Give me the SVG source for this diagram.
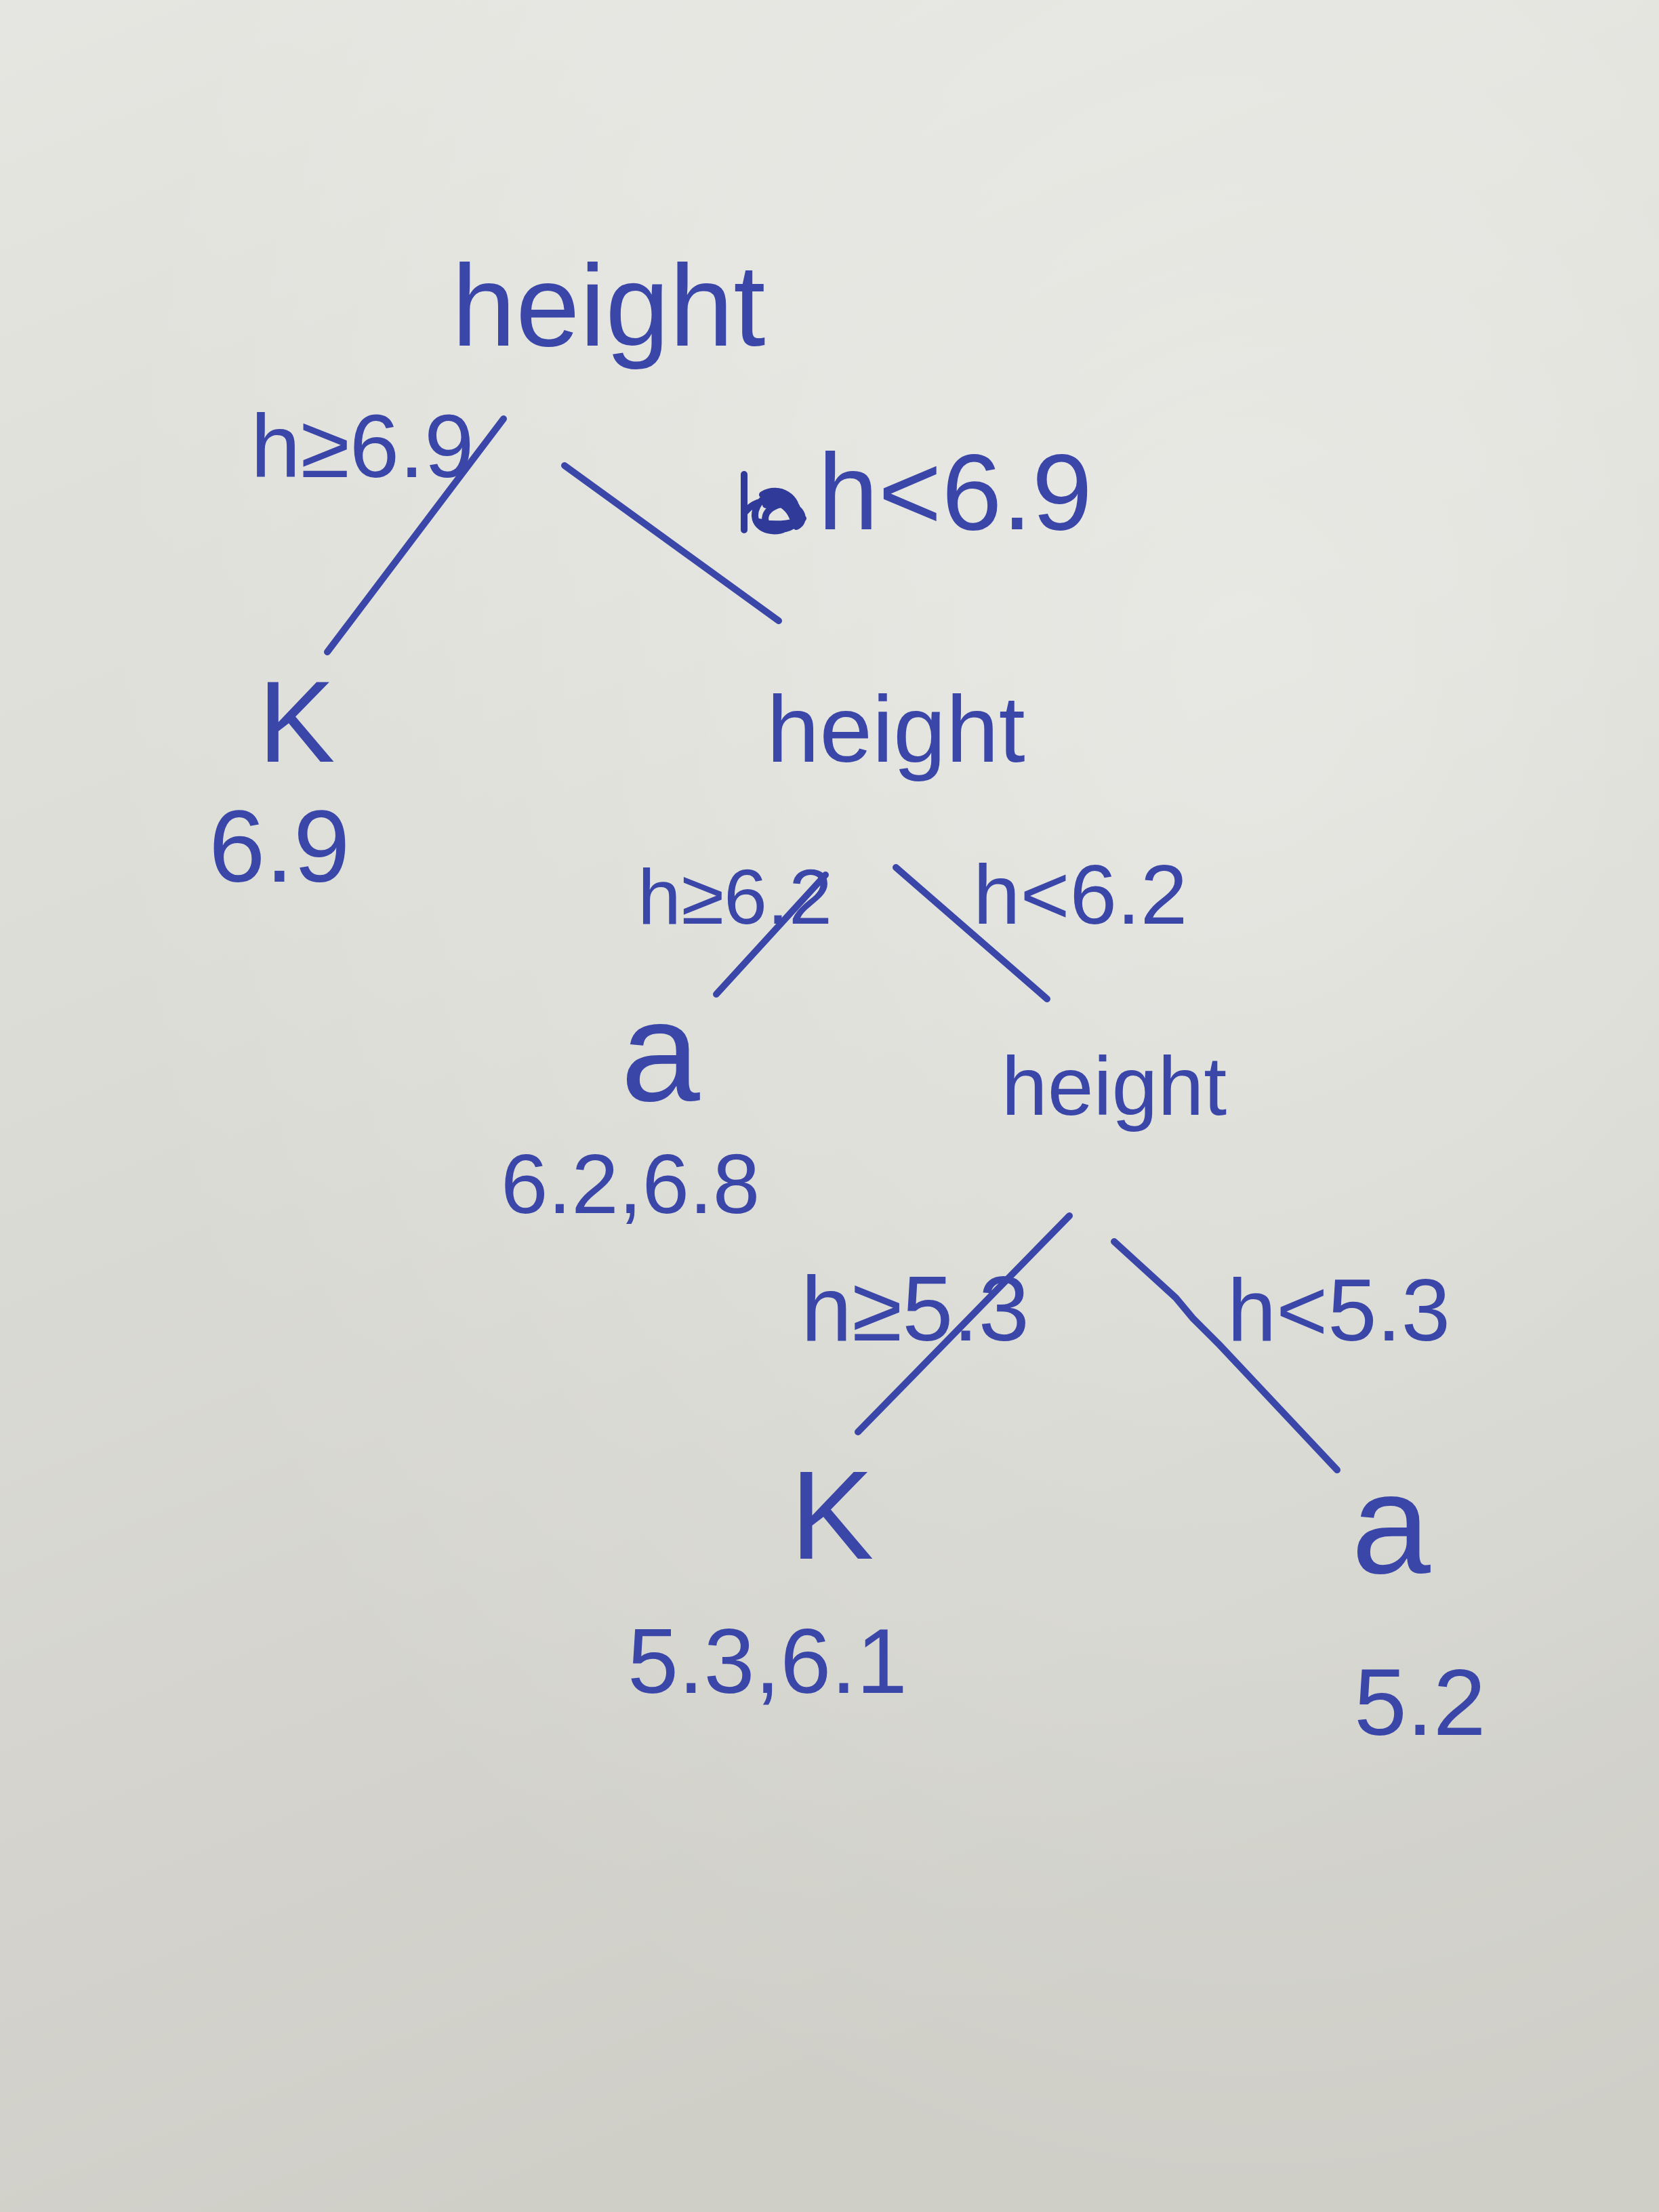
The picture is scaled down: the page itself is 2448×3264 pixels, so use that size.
<svg xmlns="http://www.w3.org/2000/svg" width="2448" height="3264" viewBox="0 0 2448 3264">
<defs>
<linearGradient id="paper" x1="0" y1="0" x2="0.3" y2="1">
<stop offset="0" stop-color="#e5e5e1"/>
<stop offset="0.45" stop-color="#dcdcd6"/>
<stop offset="1" stop-color="#cfcfc8"/>
</linearGradient>
<radialGradient id="light" cx="0.75" cy="0.3" r="0.7">
<stop offset="0" stop-color="#ffffff" stop-opacity="0.35"/>
<stop offset="1" stop-color="#ffffff" stop-opacity="0"/>
</radialGradient>
<style>
.ink{fill:#3a46a8;font-family:"Liberation Sans","DejaVu Sans",sans-serif;}
.node{font-size:170px;}
.lbl{font-size:140px;}
.val{font-size:150px;}
.edge{stroke:#3a46a8;stroke-width:10;stroke-linecap:round;fill:none;}
</style>
</defs>
<rect x="0" y="0" width="2448" height="3264" fill="url(#paper)"/>
<rect x="0" y="0" width="2448" height="3264" fill="url(#light)"/>

<g id="connectors">
<path class="edge" d="M743,618 L483,962"/>
<path class="edge" d="M833,687 L1149,916"/>
<path class="edge" d="M1218,1291 L1057,1467"/>
<path class="edge" d="M1322,1280 L1545,1474"/>
<path class="edge" d="M1578,1794 L1266,2113"/>
<path class="edge" d="M1644,1832 L1735,1915 L1760,1945 L1800,1985 L1973,2169"/>
</g>

<g id="root">
<text class="ink node" x="898" y="510" text-anchor="middle">height</text>
</g>
<g id="label-root-left">
<text class="ink lbl" x="370" y="704" style="font-size:132px">h≥6.9</text>
</g>
<g id="label-root-right">
<path d="M1098,700 L1098,782 M1100,755 c20,-25 60,-20 70,10 M1125,730 c25,-15 55,5 50,30 c-5,25 -40,30 -55,15 c-15,-15 0,-45 25,-45 c25,0 40,25 30,40 c-10,15 -40,15 -45,0 c-5,-15 15,-30 35,-25 c20,5 25,25 10,32 M1120,770 c20,5 45,5 65,-5 M1130,745 c10,-10 35,-10 40,5" stroke="#2f3a99" stroke-width="10" fill="none" stroke-linecap="round"/>
<text class="ink lbl" x="1207" y="781" style="font-size:160px">h&lt;6.9</text>
</g>
<g id="leaf-k1">
<text class="ink node" x="381" y="1124">K</text>
<text class="ink val" x="308" y="1301">6.9</text>
</g>
<g id="node2">
<text class="ink" x="1322" y="1124" text-anchor="middle" style="font-size:140px">height</text>
</g>
<g id="label-n2-left">
<text class="ink lbl" x="941" y="1363" style="font-size:115px">h≥6.2</text>
</g>
<g id="label-n2-right">
<text class="ink lbl" x="1436" y="1363" style="font-size:125px">h&lt;6.2</text>
</g>
<g id="leaf-a1">
<text class="ink" x="916" y="1624" style="font-size:210px">a</text>
<text class="ink" x="739" y="1790" style="font-size:125px">6.2,6.8</text>
</g>
<g id="node3">
<text class="ink" x="1644" y="1645" text-anchor="middle" style="font-size:122px">height</text>
</g>
<g id="label-n3-left">
<text class="ink lbl" x="1182" y="1978" style="font-size:135px">h≥5.3</text>
</g>
<g id="label-n3-right">
<text class="ink lbl" x="1811" y="1978" style="font-size:130px">h&lt;5.3</text>
</g>
<g id="leaf-k2">
<text class="ink" x="1166" y="2300" style="font-size:185px">K</text>
<text class="ink" x="926" y="2498" style="font-size:135px">5.3,6.1</text>
</g>
<g id="leaf-a2">
<text class="ink" x="1994" y="2321" style="font-size:210px">a</text>
<text class="ink" x="1998" y="2560" style="font-size:140px">5.2</text>
</g>
</svg>
